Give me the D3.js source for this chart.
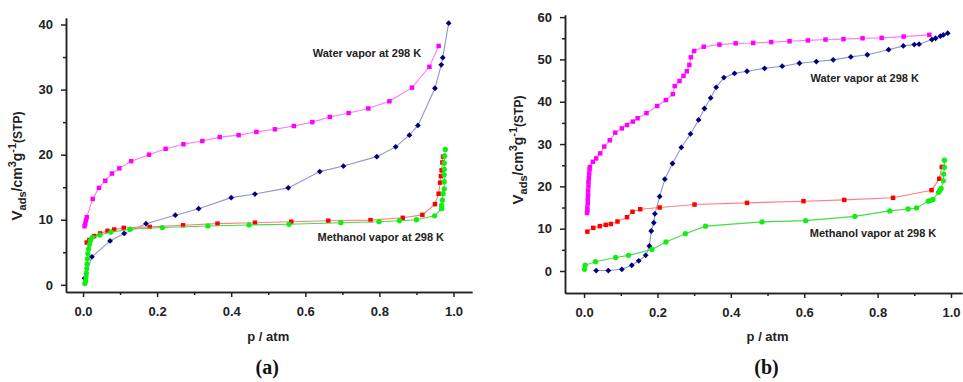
<!DOCTYPE html>
<html>
<head>
<meta charset="utf-8">
<script src="https://cdn.jsdelivr.net/npm/d3@7"></script>
<style>
  body { margin: 0; background: #fff; }
  svg { display: block; font-family: "Liberation Sans", Arial, sans-serif; }
  .tick text { font-weight: bold; font-size: 13px; fill: #222; }
  .domain, .tick line { stroke: #222; stroke-width: 1.5; }
</style>
</head>
<body>
<div id="chart"></div>
<script>
// panel (a): p / atm vs V_ads
var aWaterPink = [[0.004,9.0],[0.006,9.4],[0.008,9.9],[0.010,10.4],[0.026,13.2],[0.043,14.9],[0.060,16.0],[0.078,17.1],[0.098,17.9],
  [0.130,19.0],[0.178,20.0],[0.223,20.9],[0.271,21.6],[0.322,22.1],[0.369,22.7],[0.420,23.0],[0.468,23.5],[0.518,23.9],
  [0.569,24.4],[0.619,25.0],[0.666,25.8],[0.717,26.4],[0.770,27.1],[0.827,28.2],[0.888,30.3],[0.935,33.5],[0.960,36.7]];
var aWaterNavy = [[0.004,1.0],[0.024,4.3],[0.073,6.75],[0.111,7.9],[0.170,9.4],[0.249,10.7],[0.312,11.7],[0.400,13.4],
  [0.464,13.95],[0.554,14.9],[0.639,17.4],[0.703,18.25],[0.793,19.7],[0.844,21.2],[0.881,23.0],[0.904,24.5],[0.950,30.2],
  [0.967,33.8],[0.971,34.9],[0.987,40.2]];
var aMethRed = [[0.010,6.5],[0.017,6.9],[0.030,7.5],[0.046,7.9],[0.066,8.3],[0.084,8.5],[0.110,8.75],[0.180,8.9],[0.270,9.15],
  [0.363,9.4],[0.464,9.55],[0.562,9.7],[0.662,9.85],[0.776,9.95],[0.863,10.3],[0.916,10.75],[0.950,12.4],[0.960,14.0],
  [0.964,15.7],[0.966,16.7],[0.968,17.6],[0.970,18.8],[0.972,19.7]];
var aMethGreen = [[0.005,0.2],[0.007,0.6],[0.008,1.2],[0.009,1.8],[0.010,2.5],[0.011,3.2],[0.012,4.0],[0.013,4.8],[0.015,5.5],
  [0.017,6.2],[0.020,6.8],[0.025,7.3],[0.045,7.65],[0.075,8.1],[0.127,8.55],[0.214,8.8],[0.337,9.05],[0.448,9.2],[0.556,9.3],
  [0.696,9.55],[0.799,9.7],[0.854,9.85],[0.900,10.0],[0.949,10.6],[0.968,11.7],[0.968,12.2],[0.970,13.0],[0.972,14.0],
  [0.975,14.75],[0.975,15.85],[0.975,16.9],[0.975,17.75],[0.975,18.7],[0.976,19.8],[0.978,20.8]];

// panel (b)
var bWaterPink = [[0.008,13.7],[0.009,14.3],[0.009,15.0],[0.010,16.0],[0.010,17.0],[0.011,18.0],[0.011,19.0],[0.012,20.0],
  [0.012,21.0],[0.013,22.0],[0.014,23.0],[0.015,24.0],[0.016,24.6],[0.024,25.8],[0.033,26.6],[0.044,27.8],[0.055,29.4],
  [0.070,30.9],[0.085,32.7],[0.103,33.7],[0.117,34.5],[0.133,35.3],[0.146,36.1],[0.170,37.3],[0.199,39.0],[0.223,40.4],
  [0.242,41.8],[0.247,43.7],[0.260,44.9],[0.271,46.1],[0.280,47.2],[0.287,48.7],[0.291,50.5],[0.300,52.0],[0.326,53.0],
  [0.369,53.5],[0.413,53.8],[0.461,53.9],[0.510,54.1],[0.560,54.3],[0.610,54.5],[0.658,54.7],[0.707,54.8],[0.759,55.0],
  [0.811,55.1],[0.871,55.4],[0.941,55.8]];
var bWaterNavy = [[0.033,0.1],[0.066,0.1],[0.103,0.4],[0.130,1.35],[0.149,2.4],[0.168,3.7],[0.178,5.9],[0.183,9.45],[0.190,11.4],
  [0.193,13.5],[0.206,17.6],[0.220,21.7],[0.241,25.4],[0.265,29.2],[0.290,32.4],[0.312,35.7],[0.328,38.4],[0.345,40.9],
  [0.360,43.4],[0.381,45.7],[0.410,46.7],[0.444,47.2],[0.492,47.9],[0.540,48.4],[0.587,49.1],[0.633,49.5],[0.679,49.9],
  [0.727,50.6],[0.772,51.1],[0.830,52.3],[0.870,53.2],[0.900,53.5],[0.913,53.6],[0.948,54.7],[0.958,55.0],[0.971,55.5],
  [0.979,55.8],[0.991,56.2]];
var bMethRed = [[0.009,9.3],[0.025,10.2],[0.043,10.6],[0.059,10.9],[0.073,11.1],[0.091,11.7],[0.117,12.7],[0.132,14.0],
  [0.153,14.6],[0.206,15.0],[0.301,15.7],[0.444,16.1],[0.598,16.5],[0.709,16.8],[0.842,17.3],[0.947,19.1],[0.968,21.8],
  [0.975,24.6]];
var bMethGreen = [[0.001,0.4],[0.003,1.4],[0.031,2.2],[0.086,3.2],[0.121,3.7],[0.185,5.1],[0.223,6.85],[0.276,8.8],[0.331,10.6],
  [0.485,11.6],[0.604,11.9],[0.738,12.9],[0.833,14.2],[0.883,14.65],[0.906,14.9],[0.938,16.5],[0.945,16.7],[0.951,16.9],
  [0.966,18.6],[0.970,19.1],[0.973,19.5],[0.979,21.3],[0.980,22.9],[0.982,24.5],[0.982,26.2]];

var xTicks = [0, 0.2, 0.4, 0.6, 0.8, 1.0];
var xMinor = [0.1, 0.3, 0.5, 0.7, 0.9];
var yTicksA = [0, 10, 20, 30, 40];
var yMinorA = [5, 15, 25, 35];
var yTicksB = [0, 10, 20, 30, 40, 50, 60];
var yMinorB = [5, 15, 25, 35, 45, 55];

var width = 963, height = 382;
var svg = d3.select('#chart').append('svg')
  .attr('width', width)
  .attr('height', height);

var styles = {
  pink:  { line: '#ff77ff', fill: '#ff00ff', shape: 'square' },
  navy:  { line: '#9494cc', fill: '#000080', shape: 'diamond' },
  red:   { line: '#ff7f7f', fill: '#ff0000', shape: 'square' },
  green: { line: '#44dd44', fill: '#11ee11', shape: 'circle' }
};

function drawPanel(p) {
  var x = d3.scaleLinear().domain(p.xDomain).range(p.xRange);
  var y = d3.scaleLinear().domain(p.yDomain).range(p.yRange);
  var g = svg.append('g');

  g.append('g')
    .attr('transform', 'translate(0,' + p.yRange[0] + ')')
    .call(d3.axisBottom(x).tickValues(xMinor).tickSize(3).tickSizeOuter(0).tickFormat(''));
  g.append('g')
    .attr('transform', 'translate(0,' + p.yRange[0] + ')')
    .call(d3.axisBottom(x).tickValues(xTicks).tickSize(5).tickSizeOuter(0).tickPadding(10).tickFormat(d3.format('.1f')));
  g.append('g')
    .attr('transform', 'translate(' + p.xRange[0] + ',0)')
    .call(d3.axisLeft(y).tickValues(p.yMinor).tickSize(3).tickSizeOuter(0).tickFormat(''));
  g.append('g')
    .attr('transform', 'translate(' + p.xRange[0] + ',0)')
    .call(d3.axisLeft(y).tickValues(p.yTicks).tickSize(5).tickSizeOuter(0).tickPadding(8));

  var line = d3.line().x(function(d) { return x(d[0]); }).y(function(d) { return y(d[1]); });

  p.series.forEach(function(s) {
    var st = styles[s.style];
    g.append('path')
      .datum(s.data)
      .attr('d', line)
      .attr('fill', 'none')
      .attr('stroke', st.line)
      .attr('stroke-width', 1.1);
    var sym = st.shape == 'circle' ? d3.symbol(d3.symbolCircle, 22) : d3.symbol(d3.symbolSquare, st.shape == 'diamond' ? 17 : 20);
    g.selectAll(null)
      .data(s.data)
      .enter()
      .append('path')
      .attr('d', sym)
      .attr('transform', function(d) {
        return 'translate(' + x(d[0]) + ',' + y(d[1]) + ')' + (st.shape == 'diamond' ? ' rotate(45)' : '');
      })
      .attr('fill', st.fill);
  });

  p.notes.forEach(function(n) {
    g.append('text')
      .attr('x', x(n.at[0]))
      .attr('y', y(n.at[1]))
      .style('font-size', '11px')
      .style('font-weight', 'bold')
      .style('fill', '#222')
      .text(n.text);
  });

  var cx = (x(0) + x(1)) / 2;
  g.append('text')
    .attr('x', cx)
    .attr('y', 341)
    .attr('text-anchor', 'middle')
    .style('font-size', '13px')
    .style('font-weight', 'bold')
    .style('fill', '#222')
    .text('p / atm');

  g.append('text')
    .attr('x', cx - 1)
    .attr('y', 374)
    .attr('text-anchor', 'middle')
    .style('font-family', '"Liberation Serif", "Times New Roman", serif')
    .style('font-size', '20px')
    .style('font-weight', 'bold')
    .style('fill', '#111')
    .text(p.label);

  var yt = g.append('text')
    .attr('transform', 'translate(' + p.titleX + ',' + p.titleY + ') rotate(-90)')
    .attr('text-anchor', 'middle')
    .style('font-size', '14px')
    .style('font-weight', 'bold')
    .style('fill', '#222');
  yt.append('tspan').style('font-size', '15px').text('V');
  yt.append('tspan').attr('dy', 4).style('font-size', '11px').text('ads');
  yt.append('tspan').attr('dy', -4).text('/cm');
  yt.append('tspan').attr('dy', -6).style('font-size', '11px').text('3');
  yt.append('tspan').attr('dy', 6).text('g');
  yt.append('tspan').attr('dy', -6).style('font-size', '11px').text('-1');
  yt.append('tspan').attr('dy', 6).style('font-size', '12px').text('(STP)');
}

drawPanel({
  xDomain: [-0.046, 1.05], xRange: [66, 472],
  yDomain: [-1.1, 41], yRange: [292, 18],
  yTicks: yTicksA, yMinor: yMinorA,
  titleX: 22, titleY: 166, label: '(a)',
  series: [
    { data: aWaterPink, style: 'pink' },
    { data: aWaterNavy, style: 'navy' },
    { data: aMethRed, style: 'red' },
    { data: aMethGreen, style: 'green' }
  ],
  notes: [
    { text: 'Water vapor at 298 K', at: [0.62, 35] },
    { text: 'Methanol vapor at 298 K', at: [0.633, 6.7] }
  ]
});

drawPanel({
  xDomain: [-0.052, 1.03], xRange: [565, 962],
  yDomain: [-5.2, 60.5], yRange: [293, 15],
  yTicks: yTicksB, yMinor: yMinorB,
  titleX: 523, titleY: 150, label: '(b)',
  series: [
    { data: bWaterPink, style: 'pink' },
    { data: bWaterNavy, style: 'navy' },
    { data: bMethRed, style: 'red' },
    { data: bMethGreen, style: 'green' }
  ],
  notes: [
    { text: 'Water vapor at 298 K', at: [0.617, 44.6] },
    { text: 'Methanol vapor at 298 K', at: [0.615, 8.0] }
  ]
});
</script>
</body>
</html>
